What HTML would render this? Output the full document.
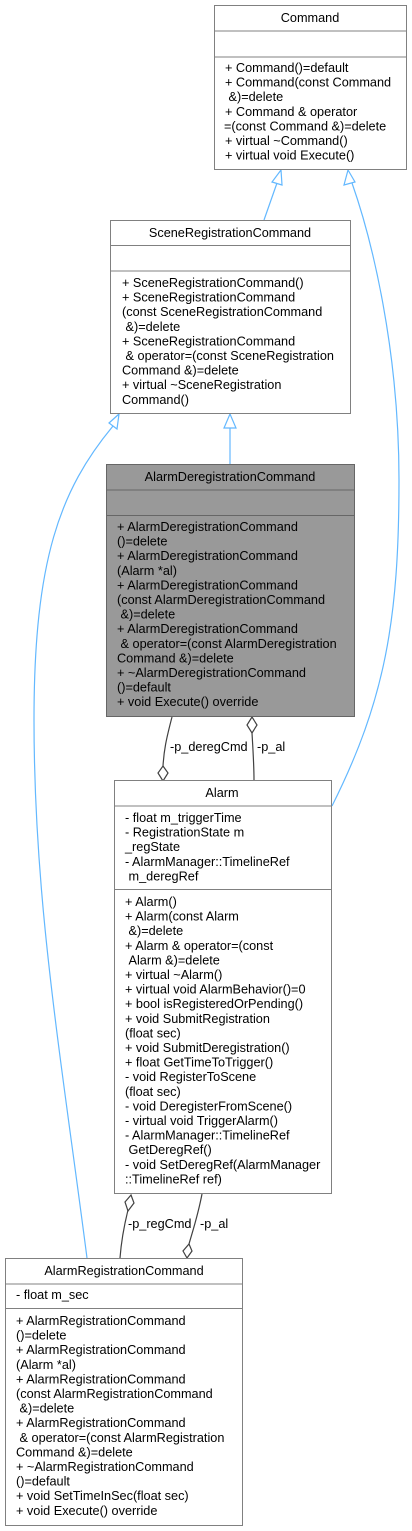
<!DOCTYPE html>
<html><head><meta charset="utf-8"><style>
html,body{margin:0;padding:0;background:#fff;}
svg{display:block;font-family:"Liberation Sans",Arial,sans-serif;font-size:12.7px;}
</style></head><body>
<svg width="412" height="1531" viewBox="0 0 412 1531" xmlns="http://www.w3.org/2000/svg">
<g fill="none" stroke="#63b8ff" stroke-width="1.2">
<path d="M277,183 L264,220"/>
<path d="M230,428 L230,465"/>
<path d="M352,183 C372,240 399,350 399,480 C399,620 385,700 332,806"/>
<path d="M113,426 C60,490 34,560 34,720 C34,900 60,1050 87,1258"/>
</g>
<g fill="#fff" stroke="#63b8ff" stroke-width="1.2">
<polygon points="281,170 272,182 282,185"/>
<polygon points="348,170 344,185 355,182"/>
<polygon points="230,414 224,428 236,428"/>
<polygon points="119,414 109,423 117,429"/>
</g>
<g fill="none" stroke="#404040" stroke-width="1.2">
<path d="M172,717 C166,740 164,750 163,766"/>
<path d="M252,733 C253,750 254,765 254,780"/>
<path d="M128,1210 C123,1230 121,1245 120,1258"/>
<path d="M202,1194 C198,1215 193,1230 189,1244"/>
</g>
<g fill="#fff" stroke="#404040" stroke-width="1.2">
<polygon points="163,766 168,773 163,781 158,773"/>
<polygon points="252,717 257,725 252,733 247,725"/>
<polygon points="131,1195 134,1203 128,1211 125,1202"/>
<polygon points="189,1244 192,1251 187,1258 183,1251"/>
</g>
<g fill="#000">
<text x="170" y="751">-p_deregCmd</text>
<text x="257" y="751">-p_al</text>
<text x="128" y="1228">-p_regCmd</text>
<text x="200" y="1228">-p_al</text>
</g>

<!-- Command -->
<rect x="214.5" y="5.5" width="192" height="164" fill="#fff" stroke="#808080"/>
<line x1="214.5" y1="31" x2="406.5" y2="31" stroke="#808080"/>
<line x1="214.5" y1="57" x2="406.5" y2="57" stroke="#808080"/>
<text x="310" y="22" text-anchor="middle">Command</text>
<g>
<text x="225" y="72">+ Command()=default</text>
<text x="225" y="86.6">+ Command(const Command</text>
<text x="225" y="101.2">&#160;&amp;)=delete</text>
<text x="225" y="115.8">+ Command &amp; operator</text>
<text x="224" y="130.4">=(const Command &amp;)=delete</text>
<text x="225" y="145">+ virtual ~Command()</text>
<text x="225" y="159.6">+ virtual void Execute()</text>
</g>

<!-- SceneRegistrationCommand -->
<rect x="110.5" y="220.5" width="240" height="193" fill="#fff" stroke="#808080"/>
<line x1="110.5" y1="245.5" x2="350.5" y2="245.5" stroke="#808080"/>
<line x1="110.5" y1="271" x2="350.5" y2="271" stroke="#808080"/>
<text x="230" y="237" text-anchor="middle">SceneRegistrationCommand</text>
<g>
<text x="122" y="287">+ SceneRegistrationCommand()</text>
<text x="122" y="301.6">+ SceneRegistrationCommand</text>
<text x="122" y="316.2">(const SceneRegistrationCommand</text>
<text x="122" y="330.8">&#160;&amp;)=delete</text>
<text x="122" y="345.4">+ SceneRegistrationCommand</text>
<text x="122" y="360">&#160;&amp; operator=(const SceneRegistration</text>
<text x="122" y="374.6">Command &amp;)=delete</text>
<text x="122" y="389.2">+ virtual ~SceneRegistration</text>
<text x="122" y="403.8">Command()</text>
</g>

<!-- AlarmDeregistrationCommand -->
<rect x="106.5" y="464.5" width="248" height="252" fill="#999" stroke="#666"/>
<line x1="106.5" y1="490" x2="354.5" y2="490" stroke="#666"/>
<line x1="106.5" y1="515.5" x2="354.5" y2="515.5" stroke="#666"/>
<text x="230" y="481" text-anchor="middle">AlarmDeregistrationCommand</text>
<g>
<text x="117" y="531">+ AlarmDeregistrationCommand</text>
<text x="117" y="545.6">()=delete</text>
<text x="117" y="560.2">+ AlarmDeregistrationCommand</text>
<text x="117" y="574.8">(Alarm *al)</text>
<text x="117" y="589.4">+ AlarmDeregistrationCommand</text>
<text x="117" y="604">(const AlarmDeregistrationCommand</text>
<text x="117" y="618.6">&#160;&amp;)=delete</text>
<text x="117" y="633.2">+ AlarmDeregistrationCommand</text>
<text x="117" y="647.8">&#160;&amp; operator=(const AlarmDeregistration</text>
<text x="117" y="662.4">Command &amp;)=delete</text>
<text x="117" y="677">+ ~AlarmDeregistrationCommand</text>
<text x="117" y="691.6">()=default</text>
<text x="117" y="706.2">+ void Execute() override</text>
</g>

<!-- Alarm -->
<rect x="114.5" y="780.5" width="217" height="413" fill="#fff" stroke="#808080"/>
<line x1="114.5" y1="806" x2="331.5" y2="806" stroke="#808080"/>
<line x1="114.5" y1="889.5" x2="331.5" y2="889.5" stroke="#808080"/>
<text x="222" y="797" text-anchor="middle">Alarm</text>
<g>
<text x="125" y="822">- float m_triggerTime</text>
<text x="125" y="836.6">- RegistrationState m</text>
<text x="125" y="851.2">_regState</text>
<text x="125" y="865.8">- AlarmManager::TimelineRef</text>
<text x="125" y="880.4">&#160;m_deregRef</text>
<text x="125" y="906">+ Alarm()</text>
<text x="125" y="920.6">+ Alarm(const Alarm</text>
<text x="125" y="935.2">&#160;&amp;)=delete</text>
<text x="125" y="949.8">+ Alarm &amp; operator=(const</text>
<text x="125" y="964.4">&#160;Alarm &amp;)=delete</text>
<text x="125" y="979">+ virtual ~Alarm()</text>
<text x="125" y="993.6">+ virtual void AlarmBehavior()=0</text>
<text x="125" y="1008.2">+ bool isRegisteredOrPending()</text>
<text x="125" y="1022.8">+ void SubmitRegistration</text>
<text x="125" y="1037.4">(float sec)</text>
<text x="125" y="1052">+ void SubmitDeregistration()</text>
<text x="125" y="1066.6">+ float GetTimeToTrigger()</text>
<text x="125" y="1081.2">- void RegisterToScene</text>
<text x="125" y="1095.8">(float sec)</text>
<text x="125" y="1110.4">- void DeregisterFromScene()</text>
<text x="125" y="1125">- virtual void TriggerAlarm()</text>
<text x="125" y="1139.6">- AlarmManager::TimelineRef</text>
<text x="125" y="1154.2">&#160;GetDeregRef()</text>
<text x="125" y="1168.8">- void SetDeregRef(AlarmManager</text>
<text x="125" y="1183.4">::TimelineRef ref)</text>
</g>

<!-- AlarmRegistrationCommand -->
<rect x="5.5" y="1258.5" width="237" height="267" fill="#fff" stroke="#808080"/>
<line x1="5.5" y1="1284" x2="242.5" y2="1284" stroke="#808080"/>
<line x1="5.5" y1="1308.5" x2="242.5" y2="1308.5" stroke="#808080"/>
<text x="124" y="1275" text-anchor="middle">AlarmRegistrationCommand</text>
<g>
<text x="16" y="1299">- float m_sec</text>
<text x="16" y="1325">+ AlarmRegistrationCommand</text>
<text x="16" y="1339.6">()=delete</text>
<text x="16" y="1354.2">+ AlarmRegistrationCommand</text>
<text x="16" y="1368.8">(Alarm *al)</text>
<text x="16" y="1383.4">+ AlarmRegistrationCommand</text>
<text x="16" y="1398">(const AlarmRegistrationCommand</text>
<text x="16" y="1412.6">&#160;&amp;)=delete</text>
<text x="16" y="1427.2">+ AlarmRegistrationCommand</text>
<text x="16" y="1441.8">&#160;&amp; operator=(const AlarmRegistration</text>
<text x="16" y="1456.4">Command &amp;)=delete</text>
<text x="16" y="1471">+ ~AlarmRegistrationCommand</text>
<text x="16" y="1485.6">()=default</text>
<text x="16" y="1500.2">+ void SetTimeInSec(float sec)</text>
<text x="16" y="1514.8">+ void Execute() override</text>
</g>
</svg>
</body></html>
